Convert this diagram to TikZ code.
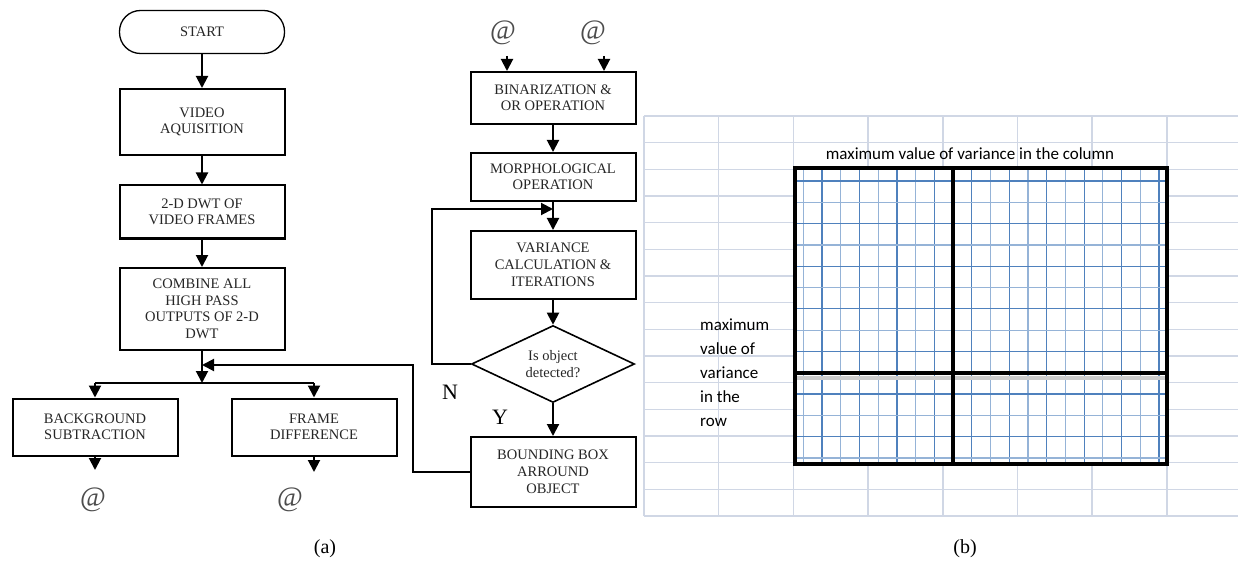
\documentclass[tikz,border=0pt]{standalone}
\usepackage{fontspec}
\setmainfont{Liberation Serif}
\newfontfamily\calibri{Carlito}
\usetikzlibrary{shapes.geometric,arrows.meta}

\definecolor{cellgrid}{RGB}{208,215,229}
\definecolor{blueA}{RGB}{79,129,189}
\definecolor{blueB}{RGB}{149,179,215}

\tikzstyle{startstop} = [rectangle, rounded corners=21pt, minimum width=165pt, minimum height=43pt, text centered, draw=black, line width=1.3pt, fill=white, text=black!85, font=\fontsize{14.5}{16.5}\selectfont]
\tikzstyle{process} = [rectangle, minimum width=165pt, align=center, draw=black, line width=2pt, fill=white, text=black!85, inner sep=2pt, font=\fontsize{14.5}{16.5}\selectfont]
\tikzstyle{decision} = [diamond, aspect=2, minimum width=163pt, minimum height=77pt, inner sep=1pt, align=center, draw=black, line width=1.6pt, fill=white, text=black!85, font=\fontsize{14.5}{17}\selectfont]
\tikzstyle{arrow} = [line width=2pt, -{Triangle[width=12pt,length=12pt]}]
\tikzstyle{line} = [line width=2pt]
\tikzstyle{atsign} = [text=black!70, font=\fontsize{28}{28}\selectfont]
\tikzstyle{answer} = [font=\fontsize{22}{22}\selectfont]
\tikzstyle{caption} = [font=\fontsize{20}{20}\selectfont]

\begin{document}
\begin{tikzpicture}[x=1pt,y=-1pt]
\useasboundingbox (0,0) rectangle (1238,561);

%Sheet cells (b)
\foreach \i in {0,...,7} \draw[cellgrid, line width=1.5pt] (644+\i*74.7,116) -- (644+\i*74.7,516);
\foreach \j in {0,...,15} \draw[cellgrid, line width=1.5pt] (644,116+\j*26.67) -- (1238,116+\j*26.67);
\fill[white] (795,168) rectangle (1167,464);
\foreach \i in {0,...,19} {
  \pgfmathtruncatemacro\gridtone{mod(\i,2)*100}
  \draw[blueA!\gridtone!blueB, line width=1.2pt] (803.3+\i*18.72,168) -- (803.3+\i*18.72,464);
}
\foreach \j in {0,...,13} {
  \pgfmathtruncatemacro\gridtone{mod(\j+1,2)*100}
  \draw[blueA!\gridtone!blueB, line width=1.2pt] (795,181+\j*21.3) -- (1167,181+\j*21.3);
}
\draw[black!20, line width=4pt] (797,378) -- (1165,378);
\draw[line width=3.5pt] (953,168) -- (953,464);
\draw[line width=3.5pt] (795,373) -- (1167,373);
\draw[line width=4pt] (795,168) rectangle (1167,464);
\node (coltext) [font=\calibri\fontsize{17}{18}\selectfont] at (970,154) {maximum value of variance in the column};
\node (rowtext) [anchor=west, align=left, inner sep=0pt, font=\calibri\fontsize{17}{24}\selectfont] at (700,373) {maximum\\value of\\variance\\in the\\row};

%Flowchart (a)
\node (start) [startstop] at (202,32) {START};
\node (video) [process, minimum height=66pt] at (202,122) {VIDEO\\AQUISITION};
\node (dwt) [process, minimum height=53pt] at (202,212) {2-D DWT OF\\VIDEO FRAMES};
\node (combine) [process, minimum height=82pt] at (202,309) {COMBINE ALL\\HIGH PASS\\OUTPUTS OF 2-D\\DWT};
\node (bgsub) [process, minimum height=57pt] at (95,427) {BACKGROUND\\SUBTRACTION};
\node (framediff) [process, minimum height=57pt] at (314,427) {FRAME\\DIFFERENCE};
\node (atA) [atsign] at (93,500) {@};
\node (atB) [atsign] at (290,500) {@};

\node (atC) [atsign] at (503,33) {@};
\node (atD) [atsign] at (593,33) {@};
\node (binar) [process, minimum height=52pt] at (553,98) {BINARIZATION \&\\OR OPERATION};
\node (morph) [process, minimum height=48pt] at (553,177) {MORPHOLOGICAL\\OPERATION};
\node (variance) [process, minimum height=68pt, font=\fontsize{14.5}{17}\selectfont] at (553,265) {VARIANCE\\CALCULATION \&\\ITERATIONS};
\node (detect) [decision] at (553,364) {Is object\\detected?};
\node (box) [process, minimum height=70pt, font=\fontsize{14.5}{17}\selectfont] at (553,472) {BOUNDING BOX\\ARROUND\\OBJECT};
\node (no) [answer] at (450,392) {N};
\node (yes) [answer] at (500,417) {Y};

\node (capA) [caption] at (325,549) {(a)};
\node (capB) [caption] at (965,549) {(b)};

%Connector points
\coordinate (split) at (202,383);
\coordinate (bgout) at (95,470);
\coordinate (fdout) at (314,472);
\coordinate (fb) at (413,365);
\coordinate (fbend) at (202,365);
\coordinate (inA) at (507,56);
\coordinate (inB) at (604,56);
\coordinate (loop) at (432,209);

%Arrows
\draw [arrow] (start) -- (video);
\draw [arrow] (video) -- (dwt);
\draw [arrow] (dwt) -- (combine);
\draw [arrow] (combine) -- (split);
\draw [line] (bgsub.north |- split) -- (framediff.north |- split);
\draw [arrow] (bgsub.north |- split) -- (bgsub);
\draw [arrow] (framediff.north |- split) -- (framediff);
\draw [arrow] (bgsub) -- (bgout);
\draw [arrow] (framediff) -- (fdout);
\draw [arrow] (box.west) -| (fb) -- (fbend);

\draw [arrow] (inA) -- (inA |- binar.north);
\draw [arrow] (inB) -- (inB |- binar.north);
\draw [arrow] (binar) -- (morph);
\draw [arrow] (morph) -- (variance);
\draw [arrow] (variance) -- (detect);
\draw [arrow] (detect) -- (box);
\draw [arrow] (detect.west) -| (loop) -- (loop -| morph.south);

\end{tikzpicture}
\end{document}
